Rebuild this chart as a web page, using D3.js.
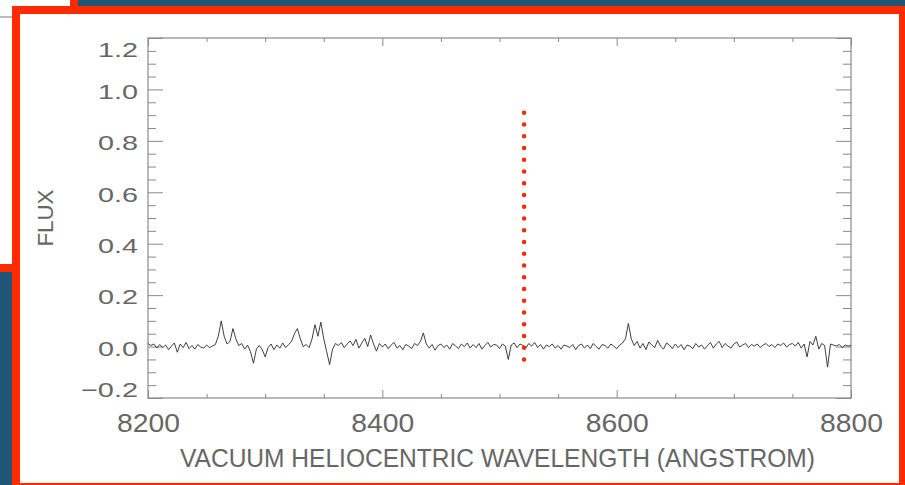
<!DOCTYPE html>
<html><head><meta charset="utf-8">
<script src="https://cdn.jsdelivr.net/npm/d3@7"></script>
<style>html,body{margin:0;padding:0;background:#1f5675;overflow:hidden}</style>
</head><body><svg id="c" width="905" height="485"></svg>
<script>
// ---- data ----
const xTicks = [8200, 8400, 8600, 8800];
const xMinor = [8250, 8300, 8350, 8450, 8500, 8550, 8650, 8700, 8750];
const yTicks = [-0.2, 0.0, 0.2, 0.4, 0.6, 0.8, 1.0, 1.2];
const yMinor = [-0.15, -0.1, -0.05, 0.05, 0.1, 0.15, 0.25, 0.3, 0.35, 0.45, 0.5, 0.55, 0.65, 0.7, 0.75, 0.85, 0.9, 0.95, 1.05, 1.1, 1.15];
const waveStart = 8200, waveStep = 2.5;
const flux = [
 0.012, 0.004, 0.010,-0.006, 0.008,-0.004, 0.006,-0.012, 0.002, 0.014,
-0.022, 0.010,-0.004, 0.016,-0.008, 0.004,-0.010, 0.008,-0.002,-0.006,
 0.006,-0.004, 0.002, 0.008, 0.040, 0.100, 0.040, 0.010, 0.020, 0.070,
 0.030, 0.004, 0.012,-0.010, 0.006,-0.020,-0.065,-0.010, 0.004,-0.012,
-0.040,-0.004, 0.010,-0.012, 0.006,-0.006, 0.014,-0.004, 0.008, 0.020,
 0.050, 0.070, 0.030, 0.000, 0.008,-0.004, 0.030, 0.085, 0.040, 0.095,
 0.030,-0.020,-0.070,-0.010, 0.012, 0.004, 0.016,-0.004, 0.010, 0.022,
 0.004, 0.028,-0.006, 0.014, 0.032, 0.000, 0.045, 0.010,-0.018, 0.012,
-0.002, 0.010,-0.008, 0.006, 0.016,-0.006, 0.004,-0.012, 0.008, 0.002,
-0.008, 0.012, 0.004, 0.020, 0.053, 0.010,-0.006, 0.008,-0.014, 0.004,
 0.010,-0.004, 0.006,-0.010, 0.012, 0.002,-0.008, 0.010, 0.000, 0.014,
-0.006, 0.008,-0.004, 0.012,-0.010, 0.004, 0.016,-0.002, 0.008, 0.006,
-0.008, 0.010, 0.002,-0.050, 0.006, 0.014,-0.004, 0.010, 0.004,-0.006,
 0.012, 0.002, 0.016,-0.004, 0.008,-0.010, 0.006, 0.000, 0.010,-0.006,
 0.004,-0.010, 0.006, 0.002,-0.004, 0.008,-0.012, 0.004, 0.010,-0.006,
 0.006,-0.008, 0.012, 0.000,-0.010, 0.008, 0.004,-0.006, 0.010, 0.002,
-0.008, 0.006, 0.014, 0.030, 0.090, 0.030, 0.004, 0.020,-0.006, 0.012,
-0.012, 0.018, 0.006,-0.004, 0.024, 0.002,-0.010, 0.014, 0.006,-0.008,
 0.010,-0.004, 0.008,-0.012, 0.006, 0.002,-0.008, 0.012,-0.002, 0.006,
-0.010, 0.004, 0.016,-0.006, 0.010, 0.020,-0.004, 0.012, 0.002,-0.006,
 0.010, 0.018,-0.002, 0.006, 0.012,-0.004, 0.008, 0.002, 0.010,-0.004,
 0.006, 0.012, 0.000, 0.008,-0.004, 0.010, 0.004, 0.014,-0.002, 0.008,
 0.012, 0.002, 0.016,-0.006, 0.010,-0.040, 0.020, 0.006, 0.040,-0.010,
 0.012, 0.004,-0.080, 0.010, 0.006, 0.002, 0.008,-0.004, 0.006, 0.002, 0.004
];
const markerWave = 8521;
const markerFlux = [-0.05, 0.92];
const xTitle = "VACUUM HELIOCENTRIC WAVELENGTH (ANGSTROM)";
const yTitle = "FLUX";

// ---- layout ----
const W = 905, H = 485;
const L = 148, R = 851, T = 38, B = 398;
const red = "#fe2a00", axisCol = "#8a8a8a", textCol = "#666";
const font = "'Liberation Sans', Arial, sans-serif";

const svg = d3.select("#c");
svg.append("rect").attr("width", W).attr("height", H).attr("fill", "#1f5675");
svg.append("rect").attr("x", -10).attr("y", -10).attr("width", 84).attr("height", 278)
  .attr("fill", "#fff").attr("stroke", red).attr("stroke-width", 8);
svg.append("line").attr("x1", 0).attr("x2", 12).attr("y1", 17).attr("y2", 17)
  .attr("stroke", "#777").attr("stroke-width", 1);
svg.append("rect").attr("x", 16).attr("y", 10).attr("width", 887).attr("height", 477)
  .attr("fill", "#fff").attr("stroke", red).attr("stroke-width", 8);

const x = d3.scaleLinear().domain([8200, 8800]).range([L, R]);
const y = d3.scaleLinear().domain([-0.2, 1.2]).range([B, T]);

function styleAxis(g) {
  g.select(".domain").remove();
  g.selectAll(".tick line").attr("stroke", axisCol).attr("stroke-width", 1);
}
const fmtY = d => d < 0 ? "\u2212" + Math.abs(d).toFixed(1) : d.toFixed(1);

const gl = svg.append("g").attr("transform", `translate(${L},0)`)
  .call(d3.axisLeft(y).tickValues(yTicks).tickSize(-15).tickPadding(10).tickFormat(fmtY));
gl.append("g").call(d3.axisLeft(y).tickValues(yMinor).tickSize(-8).tickFormat(""));
styleAxis(gl); gl.selectAll("g").each(function(){ styleAxis(d3.select(this)); });
gl.selectAll(".tick text")
  .attr("font-family", font).attr("font-size", 21).attr("fill", textCol)
  .attr("dy", "0.32em")
  .attr("transform", d => `translate(0,${d === 1.2 ? 12 : d === -0.2 ? -8 : 2})`)
  .attr("textLength", d => d < 0 ? 57 : 40).attr("lengthAdjust", "spacingAndGlyphs");

const gr = svg.append("g").attr("transform", `translate(${R},0)`)
  .call(d3.axisRight(y).tickValues(yTicks).tickSize(-15).tickFormat(""));
gr.append("g").call(d3.axisRight(y).tickValues(yMinor).tickSize(-8).tickFormat(""));
styleAxis(gr); gr.selectAll("g").each(function(){ styleAxis(d3.select(this)); });

const gb = svg.append("g").attr("transform", `translate(0,${B})`)
  .call(d3.axisBottom(x).tickValues(xTicks).tickSize(-8).tickPadding(16).tickFormat(d3.format("d")));
gb.append("g").call(d3.axisBottom(x).tickValues(xMinor).tickSize(-4).tickFormat(""));
styleAxis(gb); gb.selectAll("g").each(function(){ styleAxis(d3.select(this)); });
gb.selectAll(".tick text")
  .attr("font-family", font).attr("font-size", 26).attr("fill", textCol)
  .attr("textLength", 63).attr("lengthAdjust", "spacingAndGlyphs");

const gt = svg.append("g").attr("transform", `translate(0,${T})`)
  .call(d3.axisTop(x).tickValues(xTicks).tickSize(-8).tickFormat(""));
gt.append("g").call(d3.axisTop(x).tickValues(xMinor).tickSize(-4).tickFormat(""));
styleAxis(gt); gt.selectAll("g").each(function(){ styleAxis(d3.select(this)); });

svg.append("rect").attr("x", L).attr("y", T).attr("width", R - L).attr("height", B - T)
  .attr("fill", "none").attr("stroke", axisCol).attr("stroke-width", 1.2);

const line = d3.line().x((d, i) => x(waveStart + i * waveStep)).y(d => y(d));
svg.append("path").datum(flux).attr("d", line)
  .attr("fill", "none").attr("stroke", "#2a2a2a").attr("stroke-width", 0.9)
  .attr("stroke-linejoin", "round");

svg.append("line")
  .attr("x1", x(markerWave)).attr("x2", x(markerWave))
  .attr("y1", y(markerFlux[0])).attr("y2", y(markerFlux[1]))
  .attr("stroke", "#f52a0a").attr("stroke-width", 4.6)
  .attr("stroke-linecap", "round").attr("stroke-dasharray", "0,11.75");

svg.append("text").attr("x", (L + R) / 2 - 2).attr("y", 458).attr("dy", "0.35em")
  .attr("text-anchor", "middle").attr("font-family", font).attr("font-size", 26)
  .attr("fill", textCol).attr("textLength", 635).attr("lengthAdjust", "spacingAndGlyphs")
  .text(xTitle);
svg.append("text").attr("transform", "translate(45,218) rotate(-90)").attr("dy", "0.35em")
  .attr("text-anchor", "middle").attr("font-family", font).attr("font-size", 22)
  .attr("fill", textCol).attr("textLength", 57).attr("lengthAdjust", "spacingAndGlyphs")
  .text(yTitle);
</script></body></html>
